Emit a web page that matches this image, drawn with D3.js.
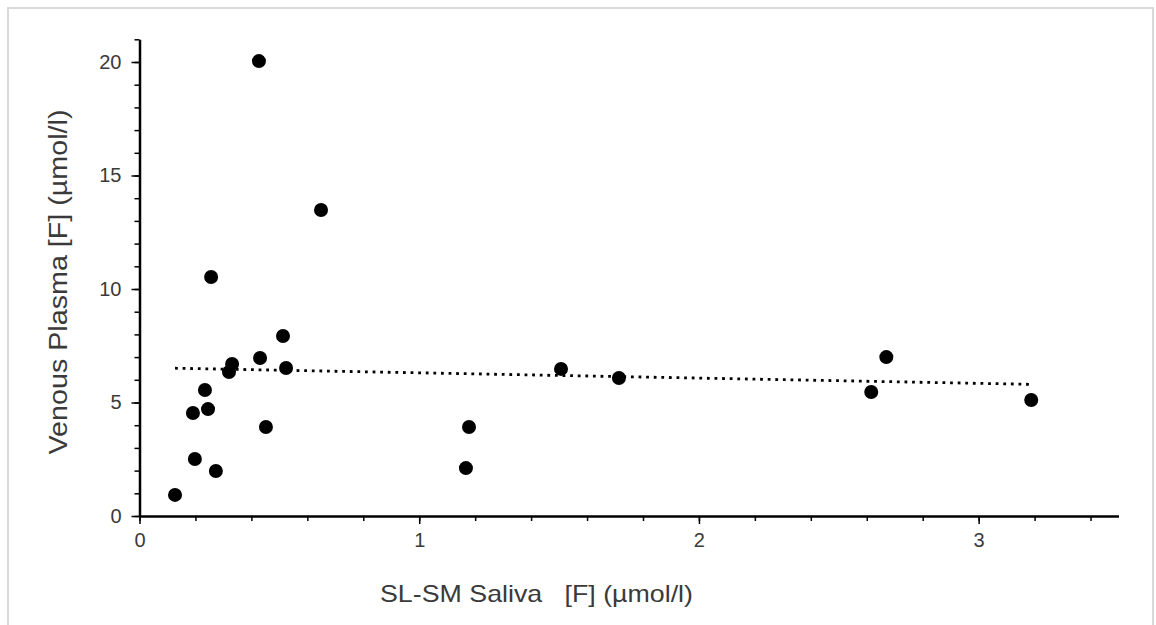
<!DOCTYPE html>
<html>
<head>
<meta charset="utf-8">
<script src="https://cdn.jsdelivr.net/npm/d3@7"></script>
<style>
  html, body { margin: 0; padding: 0; background: #fff; }
  svg { display: block; font-family: "Liberation Sans", Arial, sans-serif; }
</style>
</head>
<body>
<svg id="chart" width="1156" height="625"></svg>
<script>
// Data
const salivaF = [0.127, 0.191, 0.198, 0.234, 0.245, 0.256, 0.273, 0.320, 0.331, 0.427, 0.431, 0.452, 0.513, 0.524, 0.649, 1.167, 1.178, 1.507, 1.714, 2.616, 2.670, 3.188];
const plasmaF = [0.93, 4.54, 2.51, 5.55, 4.71, 10.53, 1.98, 6.34, 6.70, 20.04, 6.96, 3.92, 7.93, 6.52, 13.48, 2.11, 3.92, 6.48, 6.08, 5.46, 7.00, 5.11];
const trendX = [0.127, 3.188];
const trendY = [6.51, 5.80];
const xTickValues = [0, 1, 2, 3];
const yTickValues = [0, 5, 10, 15, 20];
const xTitle = "SL-SM Saliva   [F] (µmol/l)";
const yTitle = "Venous Plasma [F] (µmol/l)";

const svg = d3.select("#chart");

// outer frame
svg.append("rect")
  .attr("x", 8).attr("y", 8).attr("width", 1145).attr("height", 640)
  .attr("fill", "none").attr("stroke", "#d9d9d9").attr("stroke-width", 2);

const x = d3.scaleLinear().domain([0, 3.5]).range([139.5, 1118.5]);
const y = d3.scaleLinear().domain([0, 21]).range([516, 39.3]);

// minor ticks
const xMinor = d3.range(0, 3.5001, 0.2);
const yMinor = d3.range(0, 21.001, 1);

const labelColor = "#3a3a3a";

const xAxisG = svg.append("g").attr("transform", "translate(0,516)");
xAxisG.append("g")
  .call(d3.axisBottom(x).tickValues(xMinor).tickSize(5).tickFormat(""))
  .call(g => g.select(".domain").remove())
  .call(g => g.selectAll("line").attr("stroke", "#000").attr("stroke-width", 1.5));
xAxisG.append("g")
  .call(d3.axisBottom(x).tickValues(xTickValues).tickSize(8).tickSizeOuter(0).tickPadding(9).tickFormat(d3.format("d")))
  .call(g => g.select(".domain").attr("stroke", "#000").attr("stroke-width", 2.5))
  .call(g => g.selectAll("line").attr("stroke", "#000").attr("stroke-width", 1.5))
  .call(g => g.selectAll("text").attr("font-size", 20).attr("fill", labelColor).attr("font-family", "Liberation Sans, Arial, sans-serif"));

const yAxisG = svg.append("g").attr("transform", "translate(139.5,0)");
yAxisG.append("g")
  .call(d3.axisLeft(y).tickValues(yMinor).tickSize(5).tickFormat(""))
  .call(g => g.select(".domain").remove())
  .call(g => g.selectAll("line").attr("stroke", "#000").attr("stroke-width", 1.5));
yAxisG.append("g")
  .call(d3.axisLeft(y).tickValues(yTickValues).tickSize(8).tickSizeOuter(0).tickPadding(10).tickFormat(d3.format("d")))
  .call(g => g.select(".domain").attr("stroke", "#000").attr("stroke-width", 2.5))
  .call(g => g.selectAll("line").attr("stroke", "#000").attr("stroke-width", 1.5))
  .call(g => g.selectAll("text").attr("font-size", 20).attr("fill", labelColor).attr("font-family", "Liberation Sans, Arial, sans-serif"));

// trend line
const line = d3.line().x(d => x(d[0])).y(d => y(d[1]));
svg.append("path")
  .datum(d3.zip(trendX, trendY))
  .attr("d", line)
  .attr("fill", "none")
  .attr("stroke", "#000")
  .attr("stroke-width", 2.8)
  .attr("stroke-dasharray", "2.8,4.8");

// points
svg.append("g").selectAll("circle")
  .data(d3.zip(salivaF, plasmaF))
  .join("circle")
  .attr("cx", d => x(d[0]))
  .attr("cy", d => y(d[1]))
  .attr("r", 7)
  .attr("fill", "#000");

// titles
svg.append("text")
  .attr("x", 536.5).attr("y", 602)
  .attr("text-anchor", "middle")
  .attr("font-size", 24)
  .attr("fill", labelColor)
  .attr("textLength", 313)
  .attr("lengthAdjust", "spacingAndGlyphs")
  .style("white-space", "pre")
  .text(xTitle);

svg.append("text")
  .attr("transform", "translate(67,282) rotate(-90)")
  .attr("text-anchor", "middle")
  .attr("font-size", 25)
  .attr("fill", labelColor)
  .attr("textLength", 345)
  .attr("lengthAdjust", "spacingAndGlyphs")
  .text(yTitle);
</script>
</body>
</html>
